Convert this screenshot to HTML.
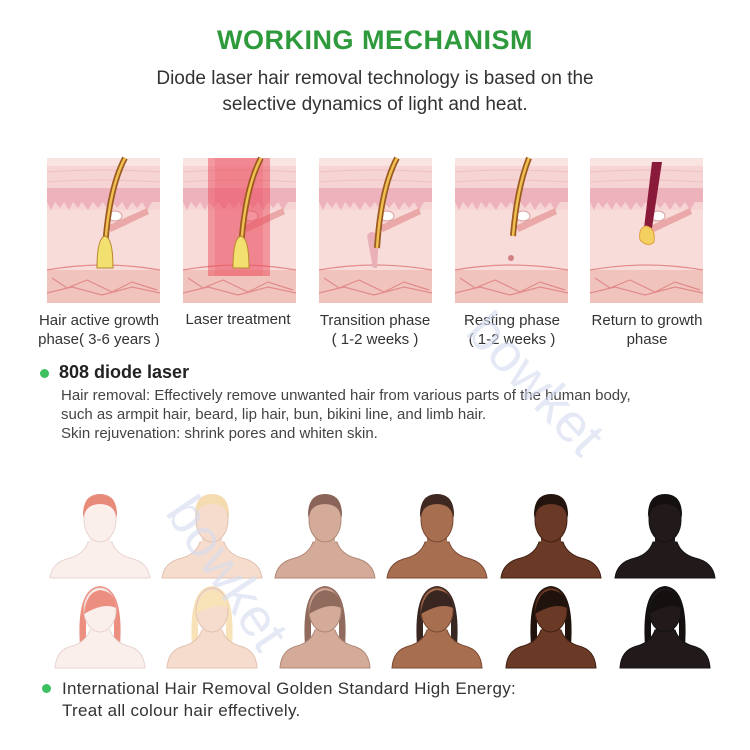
<!DOCTYPE html>
<html><head><meta charset="utf-8"><style>
body{margin:0;width:750px;height:750px;background:#fff;font-family:"Liberation Sans",sans-serif;position:relative;overflow:hidden;color:#333}
.a{position:absolute;white-space:nowrap}
</style></head><body>
<div class="a" style="left:0;width:750px;top:25px;text-align:center;font-size:27px;font-weight:bold;color:#2e9a3c;letter-spacing:0.5px">WORKING MECHANISM</div>
<div class="a" style="left:0;width:750px;top:66px;text-align:center;font-size:19px;line-height:26px;color:#333">Diode laser hair removal technology is based on the<br>selective dynamics of light and heat.</div>

<svg class="a" style="left:0;top:0" width="750" height="750">
<defs>
<g id="skin">
<rect x="0" y="0" width="113" height="145" fill="#f6d4d4"/>
<rect x="0" y="0" width="113" height="8" fill="#f9e4e2"/>
<path d="M0 14 Q56 10 113 14 M0 24 Q56 20 113 24" stroke="#efc0c0" fill="none"/>
<rect x="0" y="30" width="113" height="14" fill="#eeb2bc"/>
<path d="M0 44 l4 8 l4 -8 l5 6 l4 -6 l5 8 l4 -8 l5 6 l4 -6 l6 8 l5 -8 l5 6 l5 -6 l5 8 l4 -8 l5 6 l5 -6 l5 8 l5 -8 l5 6 l5 -6 l5 8 l5 -8 V44Z" fill="#eeb2bc"/>
<rect x="0" y="52" width="113" height="60" fill="#f8dcda"/>
<rect x="0" y="112" width="113" height="33" fill="#f0c4bc"/>
<path d="M0 112 Q56 102 113 112 M5 120 l15 10 l20 -8 l25 12 l20 -10 l25 8 M0 135 l25 -6 l30 8 l30 -8 l28 6" stroke="#e28a8a" fill="none" stroke-width="1.2"/>
<path d="M60 68 L100 50 L102 56 L64 74Z" fill="#eaa8a8"/>
<ellipse cx="68" cy="58" rx="7" ry="5" fill="#fff" stroke="#d9a0a0"/>
</g>
<g id="male"><rect x="-9" y="50" width="18" height="22" stroke="none"/><path d="M-50 98 Q-48 82 -30 78 Q-16 74 -12 62 L12 62 Q16 74 30 78 Q48 82 50 98Z"/><rect x="-10" y="52" width="20" height="24" stroke="none"/><ellipse cx="0" cy="40" rx="16" ry="22"/></g>
<g id="female"><path d="M-45 188 Q-44 170 -28 166 Q-14 162 -10 150 L10 150 Q14 162 28 166 Q44 170 45 188Z"/><rect x="-9" y="140" width="18" height="24" stroke="none"/><ellipse cx="0" cy="130" rx="16" ry="22"/></g>
</defs>
<g transform="translate(47,158)"><use href="#skin"/>
<path d="M78 0 Q62 30 58 90" stroke="#9a5a20" stroke-width="6" fill="none"/><path d="M78 0 Q62 30 58 90" stroke="#f0c050" stroke-width="2.5" fill="none"/>
<path d="M50 110 Q50 80 58 78 Q66 80 66 110Z" fill="#f2e070" stroke="#b8862a"/></g>
<g transform="translate(183,158)"><use href="#skin"/>
<rect x="25" y="0" width="62" height="118" fill="#e84050" opacity="0.45"/>
<rect x="32" y="0" width="48" height="118" fill="#f06070" opacity="0.3"/>
<path d="M78 0 Q62 30 58 90" stroke="#9a5a20" stroke-width="6" fill="none"/><path d="M78 0 Q62 30 58 90" stroke="#f0c050" stroke-width="2.5" fill="none"/>
<path d="M50 110 Q50 80 58 78 Q66 80 66 110Z" fill="#f2e070" stroke="#b8862a"/></g>
<g transform="translate(319,158)"><use href="#skin"/>
<path d="M48 78 Q52 70 60 78 L58 110 L54 110Z" fill="#eab0b8"/>
<path d="M78 0 Q62 30 58 90" stroke="#9a5a20" stroke-width="6" fill="none"/><path d="M78 0 Q62 30 58 90" stroke="#f0c050" stroke-width="2.5" fill="none"/></g>
<g transform="translate(455,158)"><use href="#skin"/>
<path d="M74 0 Q62 30 58 78" stroke="#9a5a20" stroke-width="6" fill="none"/><path d="M74 0 Q62 30 58 78" stroke="#f0c050" stroke-width="2.5" fill="none"/>
<circle cx="56" cy="100" r="3" fill="#d08080"/></g>
<g transform="translate(590,158)"><use href="#skin"/>
<path d="M72 4 L62 4 L54 70 L62 70Z" fill="#8a1a3a"/>
<path d="M50 82 Q48 70 56 68 Q66 70 64 84 Q58 90 50 82Z" fill="#f4d060" stroke="#e0a040"/></g>

<g transform="translate(0,480)">
<g transform="translate(100,0)" fill="#fbefec" stroke="#e8d4d0"><use href="#male"/><path d="M-17 38 Q-18 14 0 14 Q18 14 17 38 Q14 24 0 24 Q-14 24 -17 38Z" fill="#e88a7a" stroke="none"/>
<path d="M-20 166 Q-24 108 0 106 Q24 108 20 166 L14 166 L14 124 Q0 120 -14 134 L-14 166Z" fill="#ec8e80" stroke="none"/><use href="#female"/><path d="M-16 134 Q-14 112 0 110 Q16 112 16 128 Q4 122 -16 134Z" fill="#ec8e80" stroke="none"/></g>
<g transform="translate(212,0)" fill="#f5dccc" stroke="#e2c2b2"><use href="#male"/><path d="M-17 38 Q-18 14 0 14 Q18 14 17 38 Q14 24 0 24 Q-14 24 -17 38Z" fill="#f5dcb0" stroke="none"/>
<path d="M-20 166 Q-24 108 0 106 Q24 108 20 166 L14 166 L14 124 Q0 120 -14 134 L-14 166Z" fill="#f8e2b8" stroke="none"/><use href="#female"/><path d="M-16 134 Q-14 112 0 110 Q16 112 16 128 Q4 122 -16 134Z" fill="#f8e2b8" stroke="none"/></g>
<g transform="translate(325,0)" fill="#d4aa98" stroke="#b08878"><use href="#male"/><path d="M-17 38 Q-18 14 0 14 Q18 14 17 38 Q14 24 0 24 Q-14 24 -17 38Z" fill="#8a6458" stroke="none"/>
<path d="M-20 166 Q-24 108 0 106 Q24 108 20 166 L14 166 L14 124 Q0 120 -14 134 L-14 166Z" fill="#906a5c" stroke="none"/><use href="#female"/><path d="M-16 134 Q-14 112 0 110 Q16 112 16 128 Q4 122 -16 134Z" fill="#906a5c" stroke="none"/></g>
<g transform="translate(437,0)" fill="#a86e50" stroke="#7a4a34"><use href="#male"/><path d="M-17 38 Q-18 14 0 14 Q18 14 17 38 Q14 24 0 24 Q-14 24 -17 38Z" fill="#3e2820" stroke="none"/>
<path d="M-20 166 Q-24 108 0 106 Q24 108 20 166 L14 166 L14 124 Q0 120 -14 134 L-14 166Z" fill="#3a2620" stroke="none"/><use href="#female"/><path d="M-16 134 Q-14 112 0 110 Q16 112 16 128 Q4 122 -16 134Z" fill="#3a2620" stroke="none"/></g>
<g transform="translate(551,0)" fill="#6a3a26" stroke="#402014"><use href="#male"/><path d="M-17 38 Q-18 14 0 14 Q18 14 17 38 Q14 24 0 24 Q-14 24 -17 38Z" fill="#24140e" stroke="none"/>
<path d="M-20 166 Q-24 108 0 106 Q24 108 20 166 L14 166 L14 124 Q0 120 -14 134 L-14 166Z" fill="#20120c" stroke="none"/><use href="#female"/><path d="M-16 134 Q-14 112 0 110 Q16 112 16 128 Q4 122 -16 134Z" fill="#20120c" stroke="none"/></g>
<g transform="translate(665,0)" fill="#221a1a" stroke="#111"><use href="#male"/><path d="M-17 38 Q-18 14 0 14 Q18 14 17 38 Q14 24 0 24 Q-14 24 -17 38Z" fill="#141010" stroke="none"/>
<path d="M-20 166 Q-24 108 0 106 Q24 108 20 166 L14 166 L14 124 Q0 120 -14 134 L-14 166Z" fill="#141010" stroke="none"/><use href="#female"/><path d="M-16 134 Q-14 112 0 110 Q16 112 16 128 Q4 122 -16 134Z" fill="#141010" stroke="none"/></g>
</g>
</svg>

<div class="a" style="left:36px;top:311px;font-size:15px;line-height:19px;text-align:center;width:126px">Hair active growth<br>phase( 3-6 years )</div>
<div class="a" style="left:170px;top:311px;font-size:15px;width:136px;text-align:center">Laser treatment</div>
<div class="a" style="left:312px;top:311px;font-size:15px;line-height:19px;text-align:center;width:126px">Transition phase<br>( 1-2 weeks )</div>
<div class="a" style="left:449px;top:311px;font-size:15px;line-height:19px;text-align:center;width:126px">Resting phase<br>( 1-2 weeks )</div>
<div class="a" style="left:584px;top:311px;font-size:15px;line-height:19px;text-align:center;width:126px">Return to growth<br>phase</div>

<div class="a" style="left:40px;top:369px;width:9px;height:9px;border-radius:50%;background:#3cc060"></div>
<div class="a" style="left:59px;top:362px;font-size:18px;font-weight:bold;color:#222">808 diode laser</div>
<div class="a" style="left:61px;top:386px;font-size:15px;line-height:19px;color:#444">Hair removal: Effectively remove unwanted hair from various parts of the human body,<br>such as armpit hair, beard, lip hair, bun, bikini line, and limb hair.<br>Skin rejuvenation: shrink pores and whiten skin.</div>

<div class="a" style="left:205px;top:485px;font-size:54px;color:#d4dcf0;opacity:0.6;transform:rotate(56deg);transform-origin:left top">bowket</div>
<div class="a" style="left:500px;top:300px;font-size:54px;color:#d4dcf0;opacity:0.6;transform:rotate(47deg);transform-origin:left top">bowket</div>

<div class="a" style="left:42px;top:684px;width:9px;height:9px;border-radius:50%;background:#3cc060"></div>
<div class="a" style="left:62px;top:678px;font-size:17px;line-height:22px;color:#333;letter-spacing:0.3px">International Hair Removal Golden Standard High Energy:<br>Treat all colour hair effectively.</div>
</body></html>
